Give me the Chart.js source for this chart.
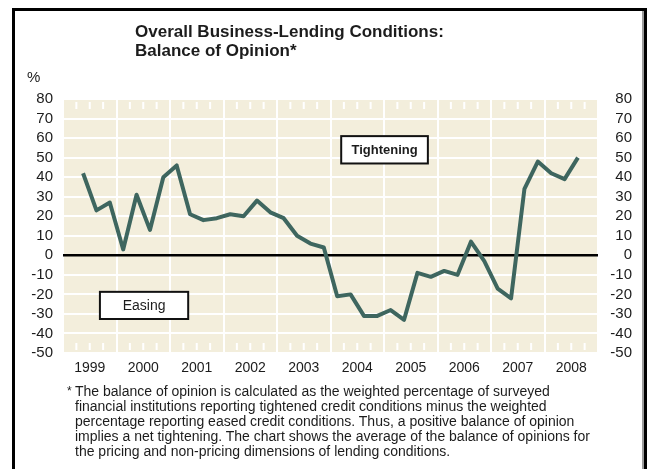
<!DOCTYPE html>
<html>
<head>
<meta charset="utf-8">
<script src="https://cdn.jsdelivr.net/npm/chart.js@4.4.0/dist/chart.umd.min.js"></script>
<style>
  body { margin: 0; background: #fff; font-family: "Liberation Sans", Arial, sans-serif; }
  .page { position: relative; width: 649px; height: 469px; overflow: hidden; }
  #chart { position: absolute; left: 0; top: 0; }
  .frame {
    position: absolute; left: 12px; top: 8px; width: 629px; height: 480px;
    border: 3px solid #000; border-bottom: none;
    box-shadow: inset -2px 0 0 #9c9c9c;
  }
  .title {
    position: absolute; left: 135px; top: 22px;
    font-weight: bold; font-size: 17px; line-height: 19px; color: #1c1c1c;
  }
  .unit { position: absolute; left: 27px; top: 68px; font-size: 15px; color: #1c1c1c; }
  .note {
    position: absolute; left: 75px; top: 384px;
    font-size: 14px; line-height: 15px; color: #1c1c1c; white-space: nowrap;
  }
  .star { position: absolute; left: 67px; top: 384px; font-size: 12px; color: #1c1c1c; }
</style>
</head>
<body>
<div class="page">
  <canvas id="chart" width="649" height="469"></canvas>
  <div class="frame"></div>
  <div class="title">Overall Business-Lending Conditions:<br>Balance of Opinion*</div>
  <div class="unit">%</div>
  <div class="star">*</div>
  <div class="note">The balance of opinion is calculated as the weighted percentage of surveyed<br>financial institutions reporting tightened credit conditions minus the weighted<br>percentage reporting eased credit conditions. Thus, a positive balance of opinion<br>implies a net tightening. The chart shows the average of the balance of opinions for<br>the pricing and non-pricing dimensions of lending conditions.</div>
</div>
<script>
// quarterly, 1999Q1 .. 2008Q4
const years = ['1999', '2000', '2001', '2002', '2003', '2004', '2005', '2006', '2007', '2008'];
const quarters = ['Q1', 'Q2', 'Q3', 'Q4'];
const balance = [
  null, 42, 23, 27,
  3, 31, 13, 40,
  46, 21, 18, 19,
  21, 20, 28, 22,
  19, 10, 6, 4,
  -21, -20, -31, -31,
  -28, -33, -9, -11,
  -8, -10, 7, -3,
  -17, -22, 34, 48,
  42, 39, 50, null,
];
const yTicks = [80, 70, 60, 50, 40, 30, 20, 10, 0, -10, -20, -30, -40, -50];

const BEIGE = '#f3eedc';
const LINE = '#3e665f';
const TEXT = '#1c1c1c';

const quarterLabels = [];
years.forEach((y) => quarters.forEach((q) => quarterLabels.push(y + q)));

const panel = {
  id: 'panel',
  beforeDraw(chart) {
    const { ctx, chartArea: a } = chart;
    ctx.save();
    ctx.fillStyle = BEIGE;
    ctx.fillRect(a.left, a.top, a.right - a.left, a.bottom - a.top);
    ctx.restore();
  },
  beforeDatasetsDraw(chart) {
    // small white quarter ticks along top and bottom
    const { ctx, chartArea: a } = chart;
    const x = chart.scales.x;
    ctx.save();
    ctx.strokeStyle = '#fff';
    ctx.lineWidth = 2;
    for (let i = 1; i < quarterLabels.length; i++) {
      if (i % 4 === 0) continue;
      const px = (x.getPixelForValue(i - 1) + x.getPixelForValue(i)) / 2;
      ctx.beginPath();
      ctx.moveTo(px, a.top + 3);
      ctx.lineTo(px, a.top + 10);
      ctx.moveTo(px, a.bottom - 3);
      ctx.lineTo(px, a.bottom - 10);
      ctx.stroke();
    }
    ctx.restore();
  },
  afterDatasetsDraw(chart) {
    const { ctx, chartArea: a } = chart;
    const y = chart.scales.y;
    const w = a.right - a.left;
    const boxes = [
      { text: 'Tightening', x0: 0.52, x1: 0.682, y0: 61, y1: 47, font: 'bold 13px "Liberation Sans", Arial' },
      { text: 'Easing', x0: 0.069, x1: 0.234, y0: -18.7, y1: -32.6, font: '14px "Liberation Sans", Arial' },
    ];
    ctx.save();
    boxes.forEach((b) => {
      const l = a.left + b.x0 * w;
      const r = a.left + b.x1 * w;
      const t = y.getPixelForValue(b.y0);
      const btm = y.getPixelForValue(b.y1);
      ctx.fillStyle = '#fff';
      ctx.fillRect(l, t, r - l, btm - t);
      ctx.strokeStyle = '#111';
      ctx.lineWidth = 2;
      ctx.strokeRect(l, t, r - l, btm - t);
      ctx.fillStyle = TEXT;
      ctx.font = b.font;
      ctx.textAlign = 'center';
      ctx.textBaseline = 'middle';
      ctx.fillText(b.text, (l + r) / 2, (t + btm) / 2 + 1);
    });
    ctx.restore();
  },
};

const tickFont = { family: '"Liberation Sans", Arial, sans-serif', size: 15 };

new Chart(document.getElementById('chart'), {
  type: 'line',
  data: {
    labels: quarterLabels,
    datasets: [{
      data: balance,
      borderColor: LINE,
      borderWidth: 4,
      pointRadius: 0,
      tension: 0,
      borderJoinStyle: 'round',
      spanGaps: false,
    }],
  },
  options: {
    responsive: false,
    animation: false,
    layout: { padding: { left: 0, right: 17, top: 99, bottom: 86 } },
    plugins: { legend: { display: false }, tooltip: { enabled: false } },
    scales: {
      x: { display: false, offset: true },
      years: {
        type: 'category',
        labels: years,
        position: 'bottom',
        offset: true,
        grid: { offset: true, color: '#fff', lineWidth: 2, drawTicks: false },
        border: { display: false },
        ticks: { color: TEXT, font: { family: tickFont.family, size: 14 }, padding: 7, maxRotation: 0, autoSkip: false },
        afterFit(s) { s.height = 30; },
      },
      y: {
        position: 'left',
        min: -50,
        max: 80,
        afterBuildTicks(s) { s.ticks = yTicks.map((v) => ({ value: v })); },
        grid: {
          color: (c) => (c.tick && c.tick.value === 0 ? '#000' : '#fff'),
          lineWidth: (c) => (c.tick && c.tick.value === 0 ? 2.5 : 2),
          drawTicks: false,
        },
        border: { display: false },
        ticks: { color: TEXT, font: tickFont, padding: 10, autoSkip: false },
        afterFit(s) { s.width = 63; },
      },
      y2: {
        position: 'right',
        min: -50,
        max: 80,
        afterBuildTicks(s) { s.ticks = yTicks.map((v) => ({ value: v })); },
        grid: { display: false, drawTicks: false },
        border: { display: false },
        ticks: { color: TEXT, font: tickFont, padding: 6, crossAlign: 'far', autoSkip: false },
        afterFit(s) { s.width = 34; },
      },
    },
  },
  plugins: [panel],
});
</script>
</body>
</html>
